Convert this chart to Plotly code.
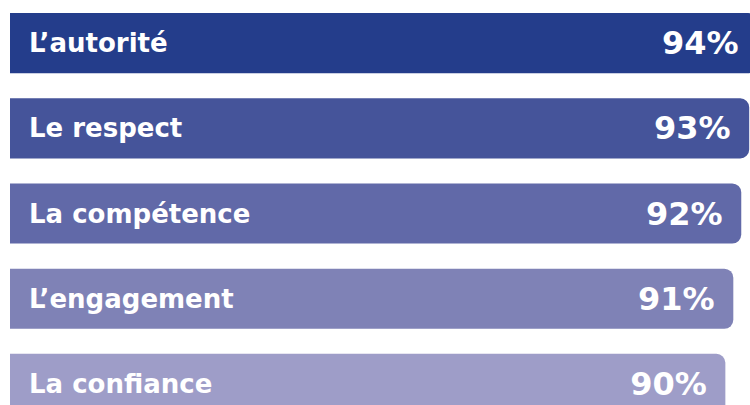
import plotly.graph_objects as go

categories = ["L’autorité", "Le respect", "La compétence", "L’engagement", "La confiance"]
values = [94, 93, 92, 91, 90]
value_labels = ["94%", "93%", "92%", "91%", "90%"]
colors = ["#243D8B", "#45549A", "#6169A8", "#7F82B6", "#9E9DC8"]

fig = go.Figure()
fig.add_trace(go.Bar(
    x=values,
    y=categories,
    orientation="h",
    text=value_labels,
    texttemplate="<b>%{text}</b><span style='font-size:24px'>\u00a0\u00a0</span>",
    textposition="inside",
    insidetextanchor="end",
    constraintext="none",
    textangle=0,
    insidetextfont=dict(family="DejaVu Sans", size=32, color="white"),
    marker=dict(color=colors, cornerradius=9, line=dict(width=0)),
    hoverinfo="skip",
))

annotations = []
for cat in categories:
    annotations.append(dict(
        x=0, y=cat, xref="x", yref="y", text="<b>" + cat + "</b>", showarrow=False,
        xanchor="left", yanchor="middle", xshift=17, yshift=0,
        font=dict(family="DejaVu Sans", size=26, color="white"),
    ))

fig.update_layout(
    width=750, height=405,
    margin=dict(l=10, r=0, t=0, b=0),
    paper_bgcolor="white", plot_bgcolor="white",
    bargap=0.294,
    showlegend=False,
    annotations=annotations,
    xaxis=dict(range=[0, 93.1], visible=False, fixedrange=True),
    yaxis=dict(type="category", categoryorder="array", categoryarray=categories,
               range=[4.247, -0.506], visible=False, fixedrange=True),
)

fig.write_html("out.html", config={"displayModeBar": False})
